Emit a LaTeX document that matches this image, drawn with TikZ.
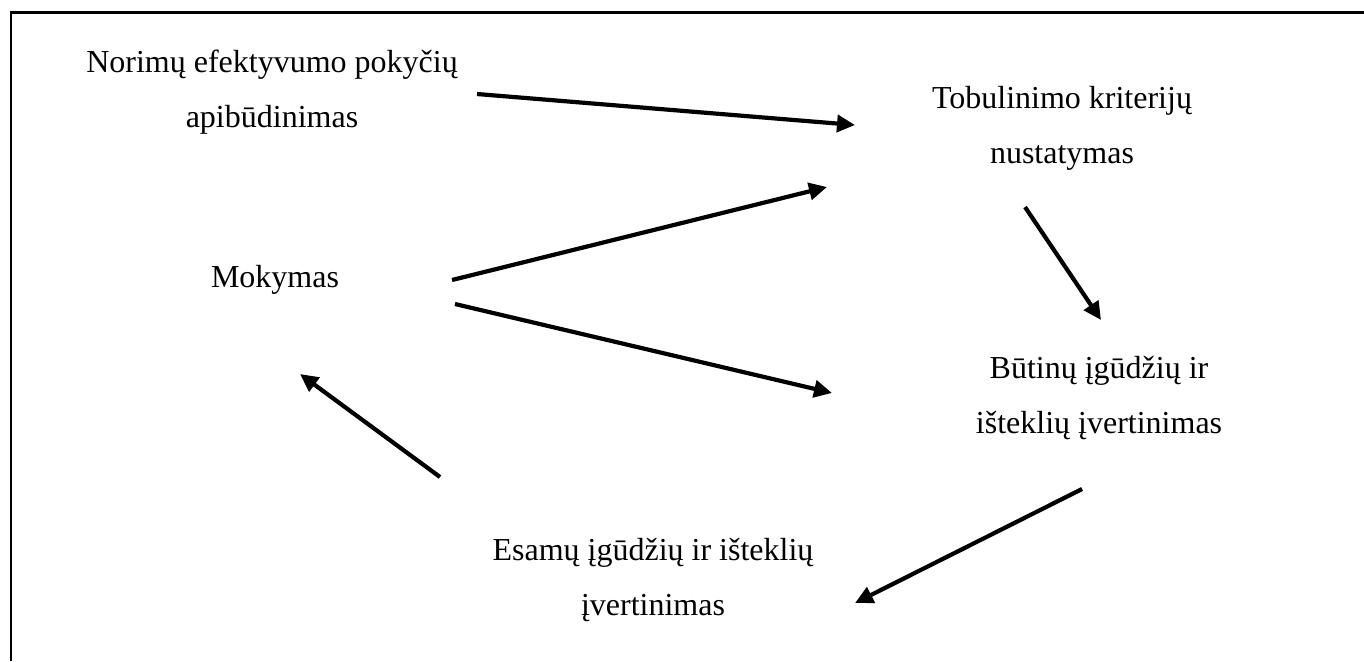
\documentclass[tikz,border=0pt]{standalone}
\usepackage{fontspec}
\setmainfont{Liberation Serif}
\usetikzlibrary{arrows.meta}
\begin{document}
\begin{tikzpicture}[x=0.5pt,y=-0.5pt,
  steptext/.style={font=\fontsize{16}{27.5}\selectfont, align=center, inner sep=0pt, anchor=base},
  flow/.style={line width=2.1pt, -{Triangle[length=9pt,width=8.5pt]}}]
\useasboundingbox (0,0) rectangle (1364,661);
% frame: left and top edges only
\draw[line width=1.3pt] (11,661) -- (11,12.5) -- (1364,12.5);

% stages (a node's base is the baseline of its last line)
\node[steptext] (goal) at (272,127) {Norimų efektyvumo pokyčių\\apibūdinimas};
\node[steptext] (crit) at (1062,163) {Tobulinimo kriterijų\\nustatymas};
\node[steptext] (teach) at (275,287) {Mokymas};
\node[steptext] (need) at (1099,433) {Būtinų įgūdžių ir\\išteklių įvertinimas};
\node[steptext] (have) at (653,615) {Esamų įgūdžių ir išteklių\\įvertinimas};

% arrow end points
\coordinate (goal-out) at (477,94);
\coordinate (crit-in)  at (855,125);
\coordinate (teach-up) at (452,280);
\coordinate (crit-in2) at (827,187);
\coordinate (teach-dn) at (455,304);
\coordinate (need-in2) at (832,393);
\coordinate (crit-out) at (1025,207);
\coordinate (need-in)  at (1101,320);
\coordinate (need-out) at (1082,489);
\coordinate (have-in)  at (855,603);
\coordinate (have-out) at (440,477);
\coordinate (teach-in) at (300,374);

\draw[flow] (goal-out) -- (crit-in);
\draw[flow] (teach-up) -- (crit-in2);
\draw[flow] (teach-dn) -- (need-in2);
\draw[flow] (crit-out) -- (need-in);
\draw[flow] (need-out) -- (have-in);
\draw[flow] (have-out) -- (teach-in);
\end{tikzpicture}
\end{document}
